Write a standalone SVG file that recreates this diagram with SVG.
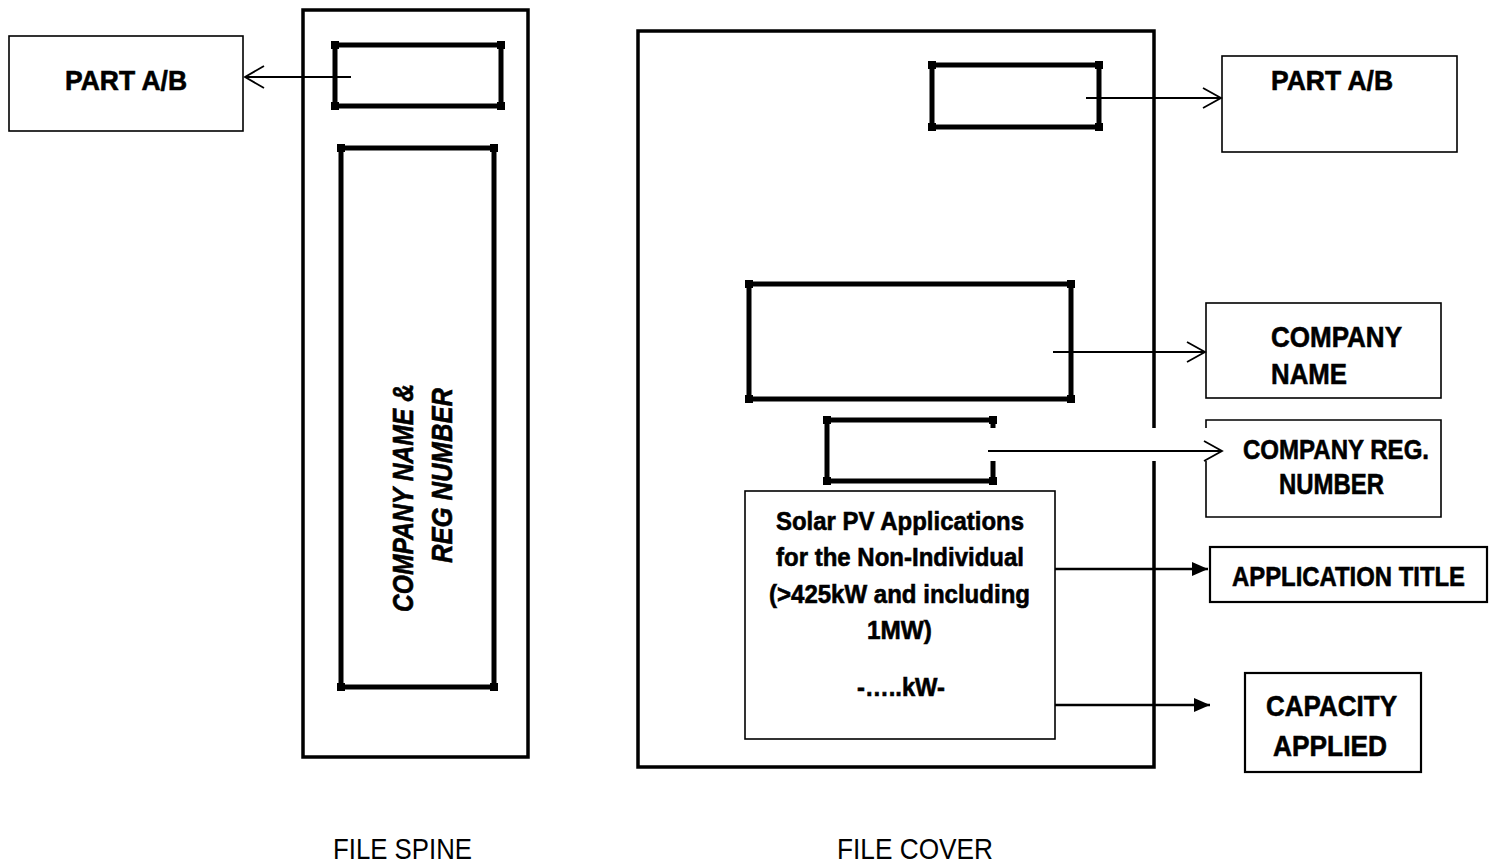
<svg xmlns="http://www.w3.org/2000/svg" xmlns:xlink="http://www.w3.org/1999/xlink" width="1498" height="864" viewBox="0 0 1498 864">
<style>
.frame{fill:none;stroke:#000;stroke-width:3.5}
.thick{fill:none;stroke:#000;stroke-width:5}
.thin{fill:#fff;stroke:#000;stroke-width:1.6}
.med{fill:#fff;stroke:#000;stroke-width:2.2}
.conn{fill:none;stroke:#000;stroke-width:1.8}
.conn2{fill:none;stroke:#000;stroke-width:2.4}
.lbl{font-family:"Liberation Sans",Arial,sans-serif;font-weight:bold;fill:#000;stroke:#000;stroke-width:0.6}
.rot{font-family:"Liberation Sans",Arial,sans-serif;font-weight:bold;font-style:italic;fill:#000;stroke:#000;stroke-width:0.6;font-size:29px}
.cap{font-family:"Liberation Sans",Arial,sans-serif;fill:#000;font-size:29px}
</style>
<defs>
<rect id="dot" x="-4" y="-4" width="8" height="8" fill="#000"/>
<marker id="tri" markerWidth="16" markerHeight="14" refX="16" refY="7" orient="auto" markerUnits="userSpaceOnUse">
<path d="M0,0 L16,7 L0,14 Z" fill="#000"/>
</marker>
</defs>
<rect width="1498" height="864" fill="#fff"/>

<g id="spine">
<rect class="frame" x="303" y="10" width="225" height="747"/>
</g>
<g id="spine-part-slot">
<rect class="thick" x="335" y="45" width="166" height="61"/>
<use xlink:href="#dot" x="335" y="45"/><use xlink:href="#dot" x="501" y="45"/>
<use xlink:href="#dot" x="335" y="106"/><use xlink:href="#dot" x="501" y="106"/>
</g>
<g id="spine-name-slot">
<rect class="thick" x="341" y="148" width="153" height="539"/>
<use xlink:href="#dot" x="341" y="148"/><use xlink:href="#dot" x="494" y="148"/>
<use xlink:href="#dot" x="341" y="687"/><use xlink:href="#dot" x="494" y="687"/>
<text class="rot" transform="translate(413,612) rotate(-90)" x="0" y="0" textLength="228" lengthAdjust="spacingAndGlyphs">COMPANY NAME &amp;</text>
<text class="rot" transform="translate(452,563) rotate(-90)" x="0" y="0" textLength="175" lengthAdjust="spacingAndGlyphs">REG NUMBER</text>
</g>
<g id="spine-part-label">
<rect class="thin" x="9" y="36" width="234" height="95"/>
<text class="lbl" x="65" y="90" font-size="28" textLength="122" lengthAdjust="spacingAndGlyphs">PART A/B</text>
</g>

<g id="cover">
<path class="frame" d="M1154,428 V31 H638 V767 H1154 V461"/>
</g>
<g id="cover-part-slot">
<rect class="thick" x="932" y="65" width="167" height="62"/>
<use xlink:href="#dot" x="932" y="65"/><use xlink:href="#dot" x="1099" y="65"/>
<use xlink:href="#dot" x="932" y="127"/><use xlink:href="#dot" x="1099" y="127"/>
</g>
<g id="cover-name-slot">
<rect class="thick" x="749" y="284" width="322" height="115"/>
<use xlink:href="#dot" x="749" y="284"/><use xlink:href="#dot" x="1071" y="284"/>
<use xlink:href="#dot" x="749" y="399"/><use xlink:href="#dot" x="1071" y="399"/>
</g>
<g id="cover-reg-slot">
<path class="thick" d="M993,428 V420 H827 V481 H993 V461"/>
<use xlink:href="#dot" x="827" y="420"/><use xlink:href="#dot" x="993" y="420"/>
<use xlink:href="#dot" x="827" y="481"/><use xlink:href="#dot" x="993" y="481"/>
</g>
<g id="cover-title-box">
<rect class="thin" x="745" y="491" width="310" height="248"/>
<text class="lbl" x="776" y="530" font-size="26" textLength="248" lengthAdjust="spacingAndGlyphs">Solar PV Applications</text>
<text class="lbl" x="776" y="566" font-size="26" textLength="248" lengthAdjust="spacingAndGlyphs">for the Non-Individual</text>
<text class="lbl" x="769" y="603" font-size="26" textLength="261" lengthAdjust="spacingAndGlyphs">(&gt;425kW and including</text>
<text class="lbl" x="867" y="639" font-size="26" textLength="65" lengthAdjust="spacingAndGlyphs">1MW)</text>
<text class="lbl" x="857" y="696" font-size="26" textLength="88" lengthAdjust="spacingAndGlyphs">-…..kW-</text>
</g>

<g id="label-part">
<rect class="thin" x="1222" y="56" width="235" height="96"/>
<text class="lbl" x="1271" y="90" font-size="28" textLength="122" lengthAdjust="spacingAndGlyphs">PART A/B</text>
</g>
<g id="label-company-name">
<rect class="thin" x="1206" y="303" width="235" height="95"/>
<text class="lbl" x="1271" y="347" font-size="30" textLength="131" lengthAdjust="spacingAndGlyphs">COMPANY</text>
<text class="lbl" x="1271" y="384" font-size="30" textLength="76" lengthAdjust="spacingAndGlyphs">NAME</text>
</g>
<g id="label-company-reg">
<path class="thin" d="M1206,428 V420 H1441 V517 H1206 V461" style="fill:none"/>
<text class="lbl" x="1243" y="459" font-size="28" textLength="186" lengthAdjust="spacingAndGlyphs">COMPANY REG.</text>
<text class="lbl" x="1279" y="494" font-size="29" textLength="105" lengthAdjust="spacingAndGlyphs">NUMBER</text>
</g>
<g id="label-application-title">
<rect class="med" x="1210" y="547" width="277" height="55"/>
<text class="lbl" x="1232" y="586" font-size="28" textLength="233" lengthAdjust="spacingAndGlyphs">APPLICATION TITLE</text>
</g>
<g id="label-capacity">
<rect class="med" x="1245" y="673" width="176" height="99"/>
<text class="lbl" x="1266" y="716" font-size="30" textLength="131" lengthAdjust="spacingAndGlyphs">CAPACITY</text>
<text class="lbl" x="1273" y="756" font-size="30" textLength="114" lengthAdjust="spacingAndGlyphs">APPLIED</text>
</g>

<g id="connectors">
<path class="conn" d="M351,77 H245 M264,66 L245,77 L264,88"/>
<path class="conn" d="M1086,98 H1221 M1203,88 L1221,98 L1203,108"/>
<path class="conn" d="M1053,352 H1205 M1187,342 L1205,352 L1187,362"/>
<path class="conn" d="M988,451 H1222 M1204,441 L1222,451 L1204,461"/>
<path class="conn2" d="M1055,569 H1208" marker-end="url(#tri)"/>
<path class="conn2" d="M1055,705 H1210" marker-end="url(#tri)"/>
</g>

<text class="cap" x="333" y="859" textLength="139" lengthAdjust="spacingAndGlyphs">FILE SPINE</text>
<text class="cap" x="837" y="859" textLength="156" lengthAdjust="spacingAndGlyphs">FILE COVER</text>
</svg>
